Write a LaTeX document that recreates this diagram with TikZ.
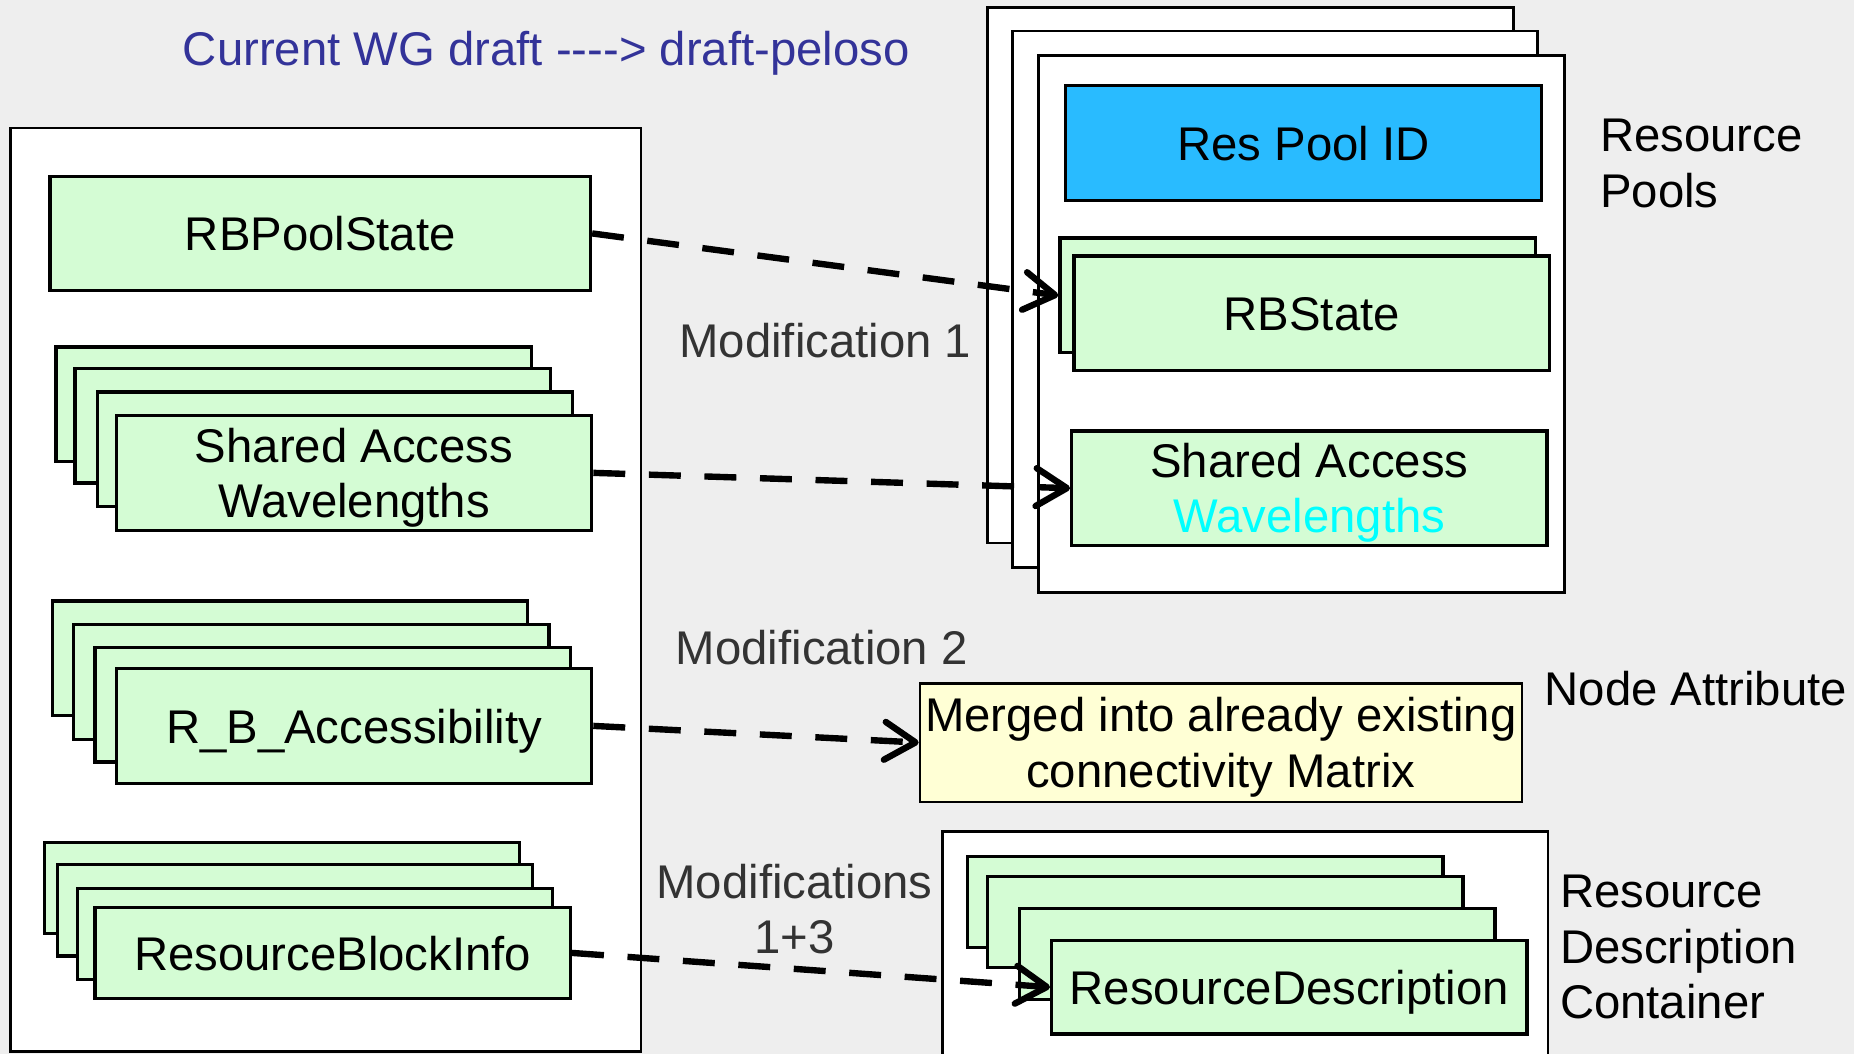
\documentclass[tikz,border=0pt]{standalone}
\usepackage{fontspec}
\setmainfont{Liberation Sans}
\usetikzlibrary{arrows.meta}
\definecolor{bggray}{HTML}{EEEEEE}
\definecolor{boxgreen}{HTML}{D4FCD4}
\definecolor{poolblue}{HTML}{29BBFF}
\definecolor{noteyellow}{HTML}{FFFFD5}
\definecolor{titleblue}{HTML}{333399}
\definecolor{modgray}{HTML}{333333}
\definecolor{cyantext}{HTML}{00FFFF}

\begin{document}
\begin{tikzpicture}[x=0.5pt,y=-0.5pt,
  every node/.style={font=\fontsize{20}{23.5}\selectfont},
  box/.style={draw=black, anchor=north west, inner sep=0pt, align=center},
  container/.style={box, fill=white, line width=1.1pt},
  gbox/.style={box, fill=boxgreen, line width=1.4pt, minimum width=201pt, minimum height=48.5pt,
    text height=14.6pt, text depth=0pt},
  gslim/.style={gbox, minimum height=38.5pt},
  boxtext/.style={inner sep=0pt, align=center, yshift=-2pt},
  label/.style={inner sep=0pt, align=left},
  modlabel/.style={inner sep=0pt, align=center, text=modgray},
  conn/.style={draw=black, line width=2.7pt, dash pattern=on 13.5pt off 10pt,
    -{Straight Barb[length=13pt, width=16pt, line cap=round, line join=round]}}
]
% canvas
\clip (0,0) rectangle (1568,891);
\fill[bggray] (0,0) rectangle (1568,891);

% heading
\node[text=titleblue, inner sep=0pt] (title) at (462,45) {Current WG draft -{}-{}-{}-> draft-peloso};

% left column: current data model
\node[container, minimum width=266.5pt, minimum height=390.5pt] (cur) at (8,107) {};
\node[gbox, minimum width=228.5pt, minimum height=48pt] (rbpool) at (41,148) {RBPoolState};

\node[gbox] (sa1) at (46,292) {};
\node[gbox] (sa2) at (62,310) {};
\node[gbox] (sa3) at (81,330) {};
\node[gbox] (sa) at (97,350) {};
\node[boxtext] (satext) at (sa.center) {Shared Access\\Wavelengths};

\node[gbox] (rba1) at (43,507) {};
\node[gbox] (rba2) at (61,527) {};
\node[gbox] (rba3) at (79,546) {};
\node[gbox] (rba) at (97,564) {R\_B\_Accessibility};

\node[gslim] (rbi1) at (36,711) {};
\node[gslim] (rbi2) at (47,730) {};
\node[gslim] (rbi3) at (64,750) {};
\node[gslim] (rbi) at (79,766) {ResourceBlockInfo};

% right column: resource pools
\node[container, minimum width=222.5pt, minimum height=226.5pt] (pool1) at (834,5) {};
\node[container, minimum width=222pt, minimum height=227pt] (pool2) at (855,25) {};
\node[container, minimum width=222.5pt, minimum height=227pt] (pool) at (877,46) {};
\node[gbox, fill=poolblue] (poolid) at (900,71) {Res Pool ID};
\node[gbox] (rbsback) at (895,200) {};
\node[gbox] (rbs) at (907,215) {RBState};
\node[gbox] (sar) at (905,363) {};
\node[boxtext] (sartext) at (sar.center) {Shared Access\\\textcolor{cyantext}{Wavelengths}};
\node[label, anchor=west] (poollbl) at (1353,138) {Resource\\Pools};

% node attribute
\node[box, fill=noteyellow, line width=1pt, minimum width=254.5pt, minimum height=50pt] (merged) at (777,577) {};
\node[boxtext] (mergedtext) at (merged.center) {Merged into already existing\\connectivity Matrix};
\node[label, anchor=west] (attrlbl) at (1306,582) {Node Attribute};

% resource description container
\node[container, minimum width=256pt, minimum height=110pt] (rdc) at (796,702) {};
\node[gslim] (rd1) at (817,723) {};
\node[gslim] (rd2) at (834,740) {};
\node[gslim] (rd3) at (861,767) {};
\node[gslim, minimum height=39.5pt] (rd) at (888,794) {ResourceDescription};
\node[label, anchor=west] (rdclbl) at (1319,801) {Resource\\Description\\Container};

% modification labels
\node[modlabel] (mod1) at (698,288) {Modification 1};
\node[modlabel] (mod2) at (695,548) {Modification 2};
\node[modlabel] (mod13) at (672,769) {Modifications\\1+3};

% mappings
\draw[conn] (rbpool.east) -- (rbsback.west);
\draw[conn] (sa.east) -- (sar.west);
\draw[conn] (rba.east) -- (merged.west);
\draw[conn] (rbi.east) -- (rd.west);
\end{tikzpicture}
\end{document}
